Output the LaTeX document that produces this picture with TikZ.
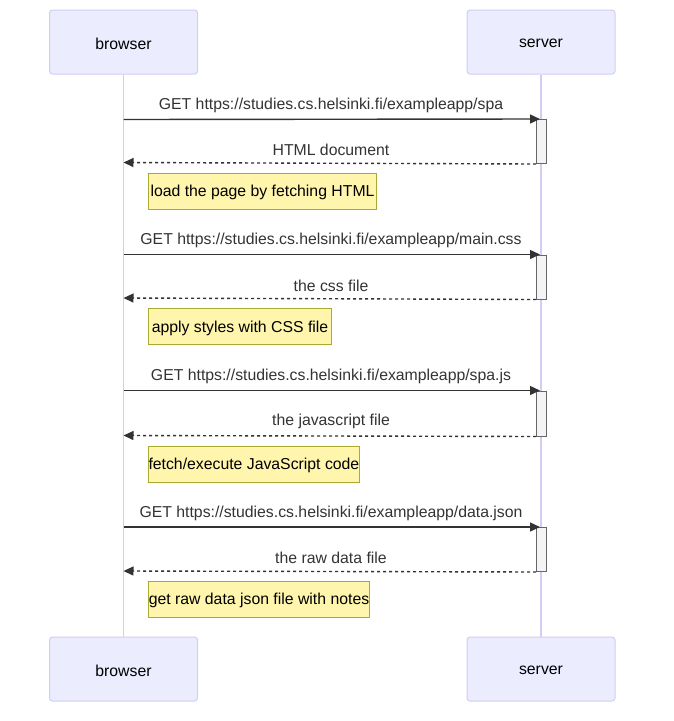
\documentclass[tikz,border=0pt]{standalone}
\usepackage{fontspec}
\setmainfont{Liberation Sans}
\usetikzlibrary{arrows.meta}
\definecolor{actfill}{HTML}{ECECFF}
\definecolor{actline}{HTML}{D3CCF3}
\definecolor{msgcol}{HTML}{333333}
\definecolor{notefill}{HTML}{FFF5AD}
\definecolor{noteline}{HTML}{AAAA33}
\definecolor{actvfill}{HTML}{F4F4F4}
\definecolor{actvline}{HTML}{666666}
\newcommand{\lowertxt}[1]{\raisebox{-1.5pt}[\height][\depth]{#1}}
\tikzset{
  actor/.style={draw=actline, fill=actfill, line width=1pt, rounded corners=3pt,
    minimum width=148pt, minimum height=64pt, inner sep=0pt,
    font=\fontsize{15.8}{19}\selectfont, text=black},
  lifeline/.style={draw=actline, line width=1.5pt},
  activ/.style={draw=actvline, fill=actvfill, line width=1pt, minimum width=10pt, inner sep=0pt},
  req/.style={draw=msgcol, line width=1.4pt, -{Triangle[length=10pt,width=9pt]}},
  ret/.style={draw=msgcol, line width=1.4pt, dash pattern=on 3pt off 3pt, -{Triangle[length=10pt,width=9pt]}},
  msglabel/.style={font=\fontsize{15.8}{19}\selectfont, text=msgcol, inner sep=0pt},
  note/.style={draw=noteline, fill=notefill, line width=1pt, anchor=west, minimum height=36pt,
    inner sep=0pt, font=\fontsize{15.8}{19}\selectfont, text=black},
}
\begin{document}
\begin{tikzpicture}[x=1pt,y=-1pt]
\useasboundingbox (0,0) rectangle (673,721);
% actors
\node[actor] (b1) at (123.5,42) {\lowertxt{browser}};
\node[actor] (s1) at (541,42) {\lowertxt{server}};
\node[actor] (b2) at (123.5,669) {\lowertxt{browser}};
\node[actor] (s2) at (541,669) {\lowertxt{server}};
% lifelines
\draw[lifeline] (b1.south) -- (b2.north);
\draw[lifeline] (s1.south) -- (s2.north);
% activations
\node[activ, minimum height=44pt, anchor=north] (a1) at (541.5,119) {};
\node[activ, minimum height=44pt, anchor=north] (a2) at (541.5,254.5) {};
\node[activ, minimum height=45pt, anchor=north] (a3) at (541.5,390.5) {};
\node[activ, minimum height=44pt, anchor=north] (a4) at (541.5,527) {};
% endpoints on browser lifeline
\coordinate (p1) at (123.5,119.5);
\coordinate (q1) at (123.5,162.5);
\coordinate (p2) at (123.5,254.5);
\coordinate (q2) at (123.5,298);
\coordinate (p3) at (123.5,390.5);
\coordinate (q3) at (123.5,435.5);
\coordinate (p4) at (123.5,527);
\coordinate (q4) at (123.5,571);
% messages
\draw[req] (p1) -- ([xshift=4pt]a1.north west);
\draw[ret] (a1.south west) -- (q1);
\draw[req] (p2) -- ([xshift=4pt]a2.north west);
\draw[ret] (a2.south west) -- (q2);
\draw[req] (p3) -- ([xshift=4pt]a3.north west);
\draw[ret] (a3.south west) -- (q3);
\draw[req] (p4) -- ([xshift=4pt]a4.north west);
\draw[ret] (a4.south west) -- (q4);
% labels
\node[msglabel] (l1) at (331,105) {GET https://studies.cs.helsinki.fi/exampleapp/spa};
\node[msglabel] (l2) at (331,150) {HTML document};
\node[msglabel] (l3) at (331,240) {GET https://studies.cs.helsinki.fi/exampleapp/main.css};
\node[msglabel] (l4) at (331,286) {the css file};
\node[msglabel] (l5) at (331,376) {GET https://studies.cs.helsinki.fi/exampleapp/spa.js};
\node[msglabel] (l6) at (331,421) {the javascript file};
\node[msglabel] (l7) at (331,513) {GET https://studies.cs.helsinki.fi/exampleapp/data.json};
\node[msglabel] (l8) at (331,557.5) {the raw data file};
% notes
\node[note, minimum width=228pt] (n1) at (148,191) {\lowertxt{load the page by fetching HTML}};
\node[note, minimum width=183pt] (n2) at (148,326.5) {\lowertxt{apply styles with CSS file}};
\node[note, minimum width=208pt] (n3) at (148,464) {\lowertxt{fetch/execute JavaScript code}};
\node[note, minimum width=221pt] (n4) at (148,599) {\lowertxt{get raw data json file with notes}};
\end{tikzpicture}
\end{document}
